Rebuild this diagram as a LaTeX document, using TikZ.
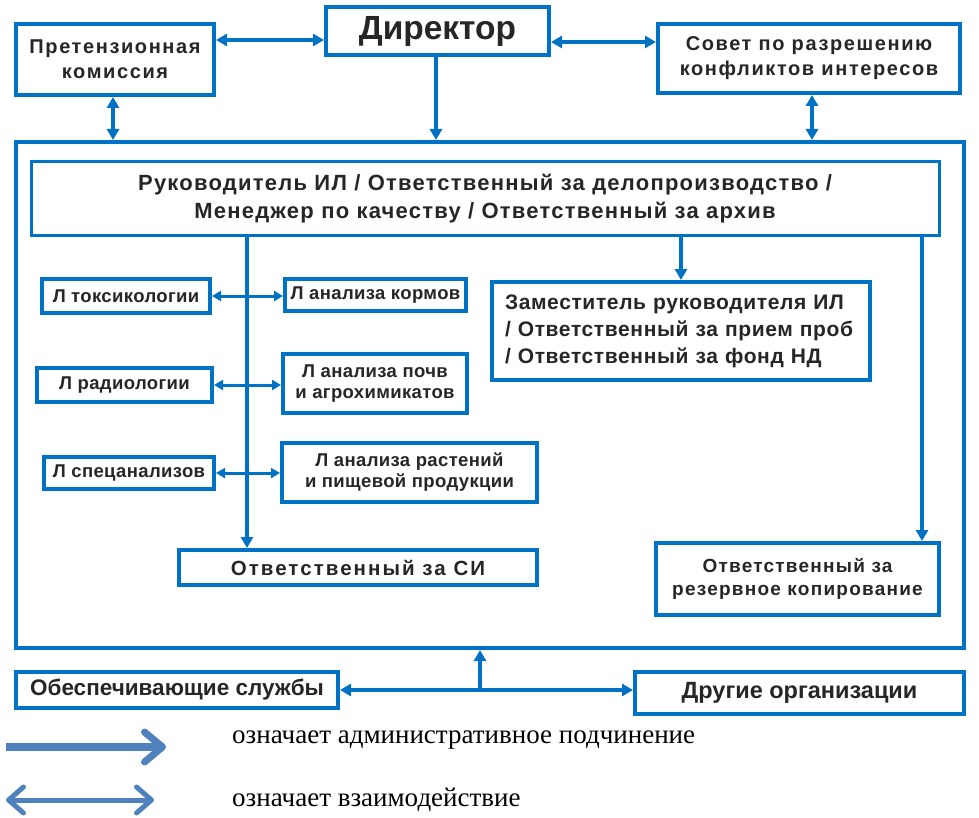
\documentclass[tikz,border=0pt]{standalone}
\usepackage{fontspec}
\setmainfont{Liberation Sans}
\newfontfamily\serifcyr{Liberation Serif}
\newcommand{\lsp}[1]{\addfontfeature{LetterSpace=#1}}
\usetikzlibrary{arrows.meta,calc}
\definecolor{boxblue}{RGB}{0,114,198}
\definecolor{legblue}{RGB}{79,129,189}
\tikzset{
  box/.style={draw=boxblue, line width=4pt, fill=white, inner sep=0pt, align=center,
    font=\bfseries\fontsize{20}{24}\selectfont, text=black!85},
  smallbox/.style={box, font=\bfseries\fontsize{18.5}{21}\selectfont\lsp{2}},
  conn/.style={draw=boxblue, line width=4pt, -{Triangle[length=11pt,width=12pt]}},
  biconn/.style={draw=boxblue, line width=4pt, {Triangle[length=11pt,width=12pt]}-{Triangle[length=11pt,width=12pt]}},
  bithin/.style={draw=boxblue, line width=3pt, {Triangle[length=9pt,width=10pt]}-{Triangle[length=9pt,width=10pt]}},
  legtext/.style={anchor=west, inner sep=0pt, font=\serifcyr\fontsize{27}{30}\selectfont, text=black},
}
\begin{document}
\begin{tikzpicture}[x=1pt,y=-1pt]
\useasboundingbox (0,0) rectangle (979,818);
% main frame
\node[draw=boxblue, line width=4pt, minimum width=948pt, minimum height=506pt, inner sep=0pt] (main) at (490,395) {};
% top row
\node[box, minimum width=223pt, minimum height=48pt, font=\bfseries\fontsize{33.5}{36}\selectfont] (dir) at (437.5,31) {Директор};
\node[box, minimum width=198pt, minimum height=71pt, font=\bfseries\fontsize{20}{25}\selectfont\lsp{8}] (pret) at (115,59.5) {Претензионная\\комиссия};
\node[box, minimum width=302pt, minimum height=69pt, font=\bfseries\fontsize{20}{25}\selectfont\lsp{8}] (sovet) at (809,58.5) {Совет по разрешению\\конфликтов интересов};
% head of lab
\node[box, line width=3pt, minimum width=908pt, minimum height=74pt, font=\bfseries\fontsize{22}{28}\selectfont\lsp{5.6}] (ruk) at (485,198.5)
  {Руководитель ИЛ / Ответственный за делопроизводство /\\Менеджер по качеству / Ответственный за архив};
\node[box, minimum width=378pt, minimum height=98pt, text width=352pt, align=left, font=\bfseries\fontsize{21}{27}\selectfont\lsp{3}] (zam) at (681,331)
  {Заместитель руководителя ИЛ\\/ Ответственный за прием проб\\/ Ответственный за фонд НД};
\node[box, minimum width=283pt, minimum height=72pt, font=\bfseries\fontsize{19}{23}\selectfont\lsp{6.5}] (rez) at (797.5,579)
  {Ответственный за\\резервное копирование};
% labs
\node[smallbox, minimum width=168pt, minimum height=34pt] (tox) at (126,296) {Л токсикологии};
\node[smallbox, minimum width=181pt, minimum height=32pt] (korm) at (375.5,295) {Л анализа кормов};
\node[smallbox, minimum width=175pt, minimum height=34pt] (rad) at (124.5,385) {Л радиологии};
\node[smallbox, minimum width=184pt, minimum height=59pt] (pochv) at (375,383.5) {Л анализа почв\\и агрохимикатов};
\node[smallbox, minimum width=170pt, minimum height=32pt] (spec) at (129,473) {Л спецанализов};
\node[smallbox, minimum width=255pt, minimum height=59pt] (rast) at (409.5,472.5) {Л анализа растений\\и пищевой продукции};
\node[box, minimum width=358pt, minimum height=35pt, font=\bfseries\fontsize{20.5}{24}\selectfont\lsp{10}] (si) at (358,567.5) {Ответственный за СИ};
% bottom
\node[box, minimum width=322pt, minimum height=36pt, font=\bfseries\fontsize{22.5}{26}\selectfont] (obesp) at (177,690) {Обеспечивающие службы};
\node[box, minimum width=329pt, minimum height=42pt, font=\bfseries\fontsize{23.5}{26}\selectfont] (drug) at (799.5,693) {Другие организации};
% coordinates
\coordinate (y40) at (0,40);
\coordinate (y42) at (0,42);
\coordinate (x113) at (113,0);
\coordinate (x436) at (436,0);
\coordinate (x812) at (812,0);
\coordinate (x247) at (247,0);
\coordinate (x922) at (922,0);
\coordinate (x480) at (480,0);
% top connectors
\draw[biconn] (pret.east |- y40) -- (dir.west |- y40);
\draw[biconn] (dir.east |- y42) -- (sovet.west |- y42);
\draw[conn] (dir.south -| x436) -- (main.north -| x436);
\draw[biconn] (pret.south -| x113) -- (main.north -| x113);
\draw[biconn] (sovet.south -| x812) -- (main.north -| x812);
% internal
\draw[conn] (ruk.south -| x247) -- (si.north -| x247);
\draw[conn] (ruk.south -| zam.north) -- (zam.north);
\draw[conn] (ruk.south -| x922) -- (rez.north -| x922);
\draw[bithin] (tox.east) -- (korm.west |- tox.east);
\draw[bithin] (rad.east) -- (pochv.west |- rad.east);
\draw[bithin] (spec.east) -- (rast.west |- spec.east);
% bottom
\draw[biconn] (obesp.east) -- (drug.west |- obesp.east);
\coordinate (bj) at (obesp.east -| x480);
\draw[conn] (bj) -- (main.south -| x480);
% legend
\coordinate (l1a) at (6,747);
\coordinate (l1b) at (166,747);
\coordinate (l2a) at (6,800);
\coordinate (l2b) at (154,800);
\draw[draw=legblue, line width=8pt, -{Straight Barb[round,length=18pt,width=30pt,line width=7pt]}] (l1a) -- (l1b);
\draw[draw=legblue, line width=5pt, {Straight Barb[round,length=15pt,width=26pt,line width=5pt]}-{Straight Barb[round,length=15pt,width=26pt,line width=5pt]}] (l2a) -- (l2b);
\node[legtext] (t1) at (232,740) {означает административное подчинение};
\node[legtext] (t2) at (232,800) {означает взаимодействие};
\end{tikzpicture}
\end{document}
